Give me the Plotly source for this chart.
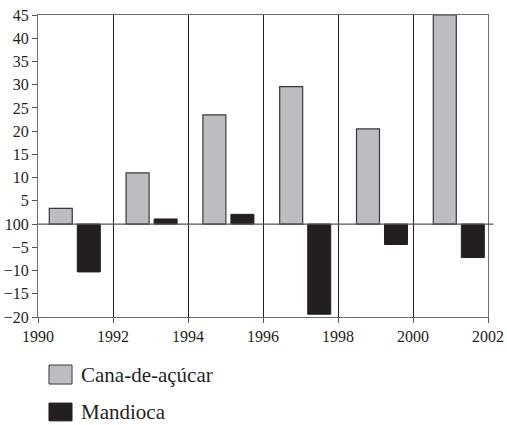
import plotly.graph_objects as go

# Data
group_years = ["1991", "1993", "1995", "1997", "1999", "2001"]
cana = [3.4, 11.0, 23.5, 29.6, 20.5, 45.0]
mandioca = [-10.3, 1.1, 2.1, -19.4, -4.4, -7.2]
series_names = ["Cana-de-açúcar", "Mandioca"]
x_ticks = [1990, 1992, 1994, 1996, 1998, 2000, 2002]
y_ticks = [-20, -15, -10, -5, 0, 5, 10, 15, 20, 25, 30, 35, 40, 45]
y_ticktext = ["−20", "−15", "−10", "−5", "100", "5", "10", "15", "20", "25", "30", "35", "40", "45"]

GRAY = "#bcbdc0"
BLACK = "#231f20"
FONT = "Liberation Serif"

fig = go.Figure()
# year axis (linear) carrying grid and ticks
fig.add_trace(go.Scatter(x=[x_ticks[0], x_ticks[-1]], y=[None, None], mode="markers",
                         xaxis="x2", yaxis="y", showlegend=False, hoverinfo="skip"))
fig.add_trace(go.Bar(x=group_years, y=cana, name=series_names[0],
                     marker=dict(color=GRAY, line=dict(color="#3a3a3a", width=1.2)),
                     showlegend=False))
fig.add_trace(go.Bar(x=group_years, y=mandioca, name=series_names[1],
                     marker=dict(color=BLACK, line=dict(color=BLACK, width=1)),
                     showlegend=False))

fig.update_layout(
    width=507, height=425,
    margin=dict(l=38, r=19, t=15, b=108, autoexpand=False),
    paper_bgcolor="white", plot_bgcolor="white",
    font=dict(family=FONT, size=16, color=BLACK),
    barmode="group", bargap=0.27, bargroupgap=0.18,
    xaxis=dict(type="category", range=[-0.479, 5.38], showticklabels=False,
               showgrid=False, zeroline=False, ticks="", automargin=False,
               showline=True, linecolor="#6d6d6d", linewidth=1.2, mirror=True),
    xaxis2=dict(overlaying="x", side="bottom", anchor="y", range=[1990, 2002],
                tickvals=x_ticks, ticktext=[str(v) for v in x_ticks],
                showgrid=True, gridcolor=BLACK, gridwidth=1, automargin=False,
                showline=False, ticks="outside", ticklen=5, tickcolor="#555555",
                zeroline=False, tickfont=dict(family=FONT, size=16, color=BLACK)),
    yaxis=dict(range=[-20, 45], tickvals=y_ticks, ticktext=y_ticktext,
               showgrid=False, zeroline=False, automargin=False,
               showline=True, linecolor="#6d6d6d", linewidth=1.2, mirror=True,
               ticks="outside", ticklen=5, tickcolor="#555555",
               tickfont=dict(family=FONT, size=16, color=BLACK)),
)

# zero line extending slightly past the right edge
fig.add_shape(type="line", xref="paper", yref="y", x0=0, x1=1.012, y0=0, y1=0,
              line=dict(color="#555555", width=1.2), layer="above")

# manual legend
legend_items = [(series_names[0], GRAY, "#3a3a3a", -0.159, -0.222),
                (series_names[1], BLACK, BLACK, -0.285, -0.344)]
for name, fill, edge, ytop, ybot in legend_items:
    fig.add_shape(type="rect", xref="paper", yref="paper", x0=0.0244, x1=0.0756,
                  y0=ybot, y1=ytop, fillcolor=fill, line=dict(color=edge, width=1))
    fig.add_annotation(xref="paper", yref="paper", x=0.09, y=(ytop + ybot) / 2,
                       text=name, showarrow=False, xanchor="left", yanchor="middle",
                       font=dict(family=FONT, size=21, color=BLACK))

# remove the default page margin so the figure sits at the window's corner
fig.write_html("out.html", config={"displayModeBar": False},
               post_script="document.body.style.margin='0';")
